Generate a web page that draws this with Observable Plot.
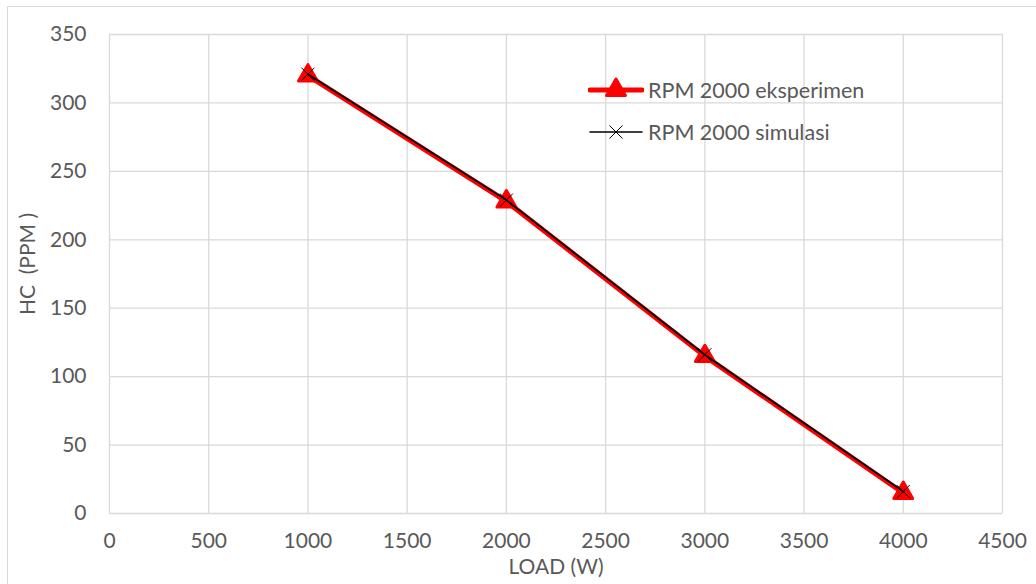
<!DOCTYPE html>
<html>
<head>
<meta charset="utf-8">
<script src="https://cdn.jsdelivr.net/npm/d3@7"></script>
<script src="https://cdn.jsdelivr.net/npm/@observablehq/plot@0.6"></script>
<style>
  html, body { margin: 0; padding: 0; background: #fff; overflow: hidden; }
  #wrap { position: relative; width: 1036px; height: 584px; }
  #frame {
    position: absolute; left: 7px; top: 6px; width: 1040px; height: 600px;
    border-left: 1.5px solid #d9d9d9; border-top: 1.5px solid #d9d9d9;
    pointer-events: none;
  }
  #legend {
    position: absolute; left: 588px; top: 76px;
    font: 21.5px Lato, "Open Sans", sans-serif; color: #595959;
  }
  #legend .item { display: flex; align-items: center; height: 28px; margin-bottom: 14px; }
  #legend svg { margin-right: 4px; }
</style>
</head>
<body>
<div id="wrap">
  <div id="frame"></div>
  <div id="chart"></div>
  <div id="legend"></div>
</div>
<script>
// Load (W) on the x axis, HC emissions (ppm) on the y axis
const loads = [1000, 2000, 3000, 4000];
const hcEksperimen = [320, 228, 115, 15];
const hcSimulasi = [321, 229, 116, 16];

const xTicks = [0, 500, 1000, 1500, 2000, 2500, 3000, 3500, 4000, 4500];
const yTicks = [0, 50, 100, 150, 200, 250, 300, 350];

const seriesNames = ["RPM 2000 eksperimen", "RPM 2000 simulasi"];
const xLabel = "LOAD (W)";
const yLabel = "HC\u00a0 (PPM\u00a0)";

const eksperimen = loads.map((x, i) => ({x, y: hcEksperimen[i]}));
const simulasi = loads.map((x, i) => ({x, y: hcSimulasi[i]}));

const gridStyle = {stroke: "#d9d9d9", strokeOpacity: 1, strokeWidth: 1.3};

const chart = Plot.plot({
  width: 1036,
  height: 584,
  marginLeft: 109,
  marginRight: 34,
  marginTop: 34,
  marginBottom: 71,
  x: {domain: [0, 4500]},
  y: {domain: [0, 350]},
  style: {fontFamily: "Lato, 'Open Sans', sans-serif", color: "#595959", background: "transparent", overflow: "visible"},
  marks: [
    Plot.gridX(xTicks, gridStyle),
    Plot.gridY(yTicks, gridStyle),
    Plot.axisX(xTicks, {
      tickSize: 0, tickPadding: 20, fontSize: 21, letterSpacing: 3,
      tickFormat: d => String(d),
      label: xLabel, labelAnchor: "center", labelOffset: 60, labelArrow: "none"
    }),
    Plot.axisY(yTicks, {
      tickSize: 0, tickPadding: 23, fontSize: 21, tickFormat: d => String(d), label: null
    }),
    // rotated y-axis title, centred a little above the middle of the frame
    Plot.text([yLabel], {
      frameAnchor: "left", text: d => d, rotate: -90, dx: -81, dy: -10,
      textAnchor: "middle", fontSize: 21, fill: "#595959"
    }),
    Plot.line(eksperimen, {x: "x", y: "y", stroke: "#ff0000", strokeWidth: 5}),
    Plot.dot(eksperimen, {x: "x", y: "y", symbol: "triangle", r: 7, fill: "#ff0000", stroke: "#ff0000", strokeWidth: 3, strokeLinejoin: "round"}),
    Plot.line(simulasi, {x: "x", y: "y", stroke: "#000000", strokeWidth: 1.8}),
    Plot.dot(simulasi, {x: "x", y: "y", symbol: "times", r: 6, stroke: "#000000", strokeWidth: 1})
  ]
});
document.getElementById("chart").appendChild(chart);

// Legend: swatches drawn with the same symbols as the marks
const legend = d3.select("#legend");
const swatches = [
  {name: seriesNames[0], line: "#ff0000", lw: 5, symbol: d3.symbolTriangle, fill: "#ff0000", stroke: "#ff0000", sw: 3, size: 154},
  {name: seriesNames[1], line: "#000000", lw: 1.5, symbol: d3.symbolTimes, fill: "none", stroke: "#000000", sw: 1, size: 113}
];
for (const s of swatches) {
  const item = legend.append("div").attr("class", "item");
  const svg = item.append("svg").attr("width", 56).attr("height", 28);
  svg.append("line").attr("x1", 2).attr("x2", 54).attr("y1", 14).attr("y2", 14)
    .attr("stroke", s.line).attr("stroke-width", s.lw).attr("stroke-linecap", "round");
  svg.append("path").attr("transform", "translate(28,14)")
    .attr("d", d3.symbol(s.symbol, s.size)())
    .attr("fill", s.fill).attr("stroke", s.stroke).attr("stroke-width", s.sw)
    .attr("stroke-linejoin", "round");
  item.append("span").text(s.name);
}
</script>
</body>
</html>
